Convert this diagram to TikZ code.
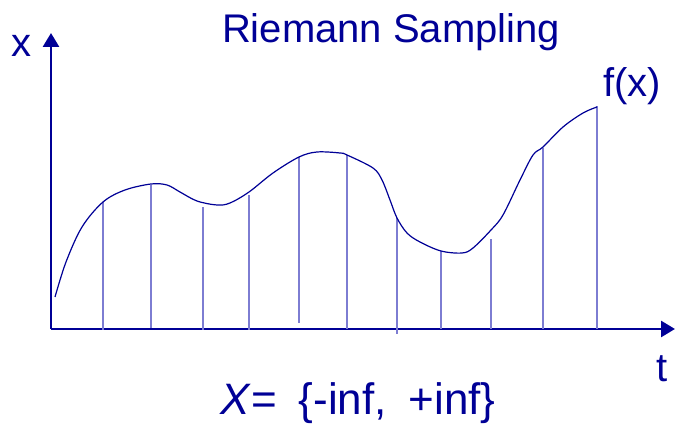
\documentclass[tikz,border=0pt]{standalone}
\usepackage{fontspec}
\setmainfont{Liberation Sans}
\usetikzlibrary{arrows.meta}
\definecolor{ink}{RGB}{0,0,150}
\definecolor{sample}{RGB}{125,125,210}
\begin{document}
\begin{tikzpicture}[x=1pt,y=-1pt,
  axis/.style={draw=ink,line width=2.6pt,-{Triangle[length=14pt,width=16pt]}},
  curve/.style={draw=ink,line width=1.2pt},
  sampleline/.style={draw=sample,line width=2pt},
  lbl/.style={text=ink,inner sep=0pt,anchor=base,font=\fontsize{40}{48}\selectfont}]
\useasboundingbox (0,0) rectangle (675,427);
% axes
\coordinate (O) at (51,329);
\coordinate (ytip) at (51,33);
\coordinate (xtip) at (675,329);
\draw[axis] (O) -- (ytip);
\draw[axis] (O) -- (xtip);
% sample lines
\foreach \sx/\top/\bot in {103/202/330, 151/185/328, 203/207/330, 249/195/330, 299/157/323,
  347/155/329, 397/218/334, 441/251/329, 491/239/329, 543/148/329, 597/106/329}
  \draw[sampleline] (\sx,\bot) -- (\sx,\top);
% curve
\draw[curve] plot[smooth,tension=0.55] coordinates {
  (55,297) (66,262) (82,227) (103,202) (125,190) (151,184) (167,185) (180,192)
  (197,201) (217,205) (230,203) (249,192) (273,173) (299,157) (317,152) (340,153)
  (347,155) (373,168) (382,180) (390,200) (397,218) (407,233) (420,242) (441,251)
  (462,253) (473,248) (491,230) (503,215) (520,180) (533,155) (543,147) (563,127)
  (583,113) (597,107)};
% labels
\node[lbl] (title) at (391,43) {Riemann Sampling};
\node[lbl] (xl) at (21,57) {x};
\node[lbl] (fl) at (632,97) {f(x)};
\node[lbl] (tl) at (662,382) {t};
\node[lbl,font=\fontsize{44}{50}\selectfont] (set) at (358,415)
  {\textit{X}=\hspace{22pt}\{-inf,\hspace{22pt}+inf\}};
\end{tikzpicture}
\end{document}
